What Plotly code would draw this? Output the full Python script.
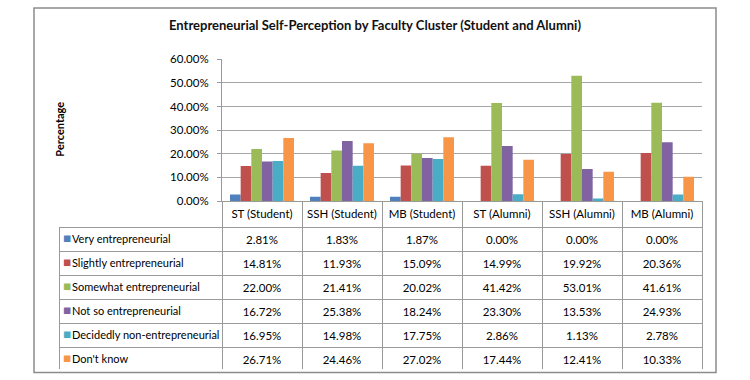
import plotly.graph_objects as go

# ---- data ----
categories = ["ST (Student)", "SSH (Student)", "MB (Student)",
              "ST (Alumni)", "SSH (Alumni)", "MB (Alumni)"]
series_names = ["Very entrepreneurial", "Slightly entrepreneurial",
                "Somewhat entrepreneurial", "Not so entrepreneurial",
                "Decidedly non-entrepreneurial", "Don't know"]
very = [2.81, 1.83, 1.87, 0.00, 0.00, 0.00]
slightly = [14.81, 11.93, 15.09, 14.99, 19.92, 20.36]
somewhat = [22.00, 21.41, 20.02, 41.42, 53.01, 41.61]
not_so = [16.72, 25.38, 18.24, 23.30, 13.53, 24.93]
decidedly = [16.95, 14.98, 17.75, 2.86, 1.13, 2.78]
dont_know = [26.71, 24.46, 27.02, 17.44, 12.41, 10.33]
y_ticks = [0, 10, 20, 30, 40, 50, 60]

series_values = [very, slightly, somewhat, not_so, decidedly, dont_know]
colors = ["#4F81BD", "#C0504D", "#9BBB59", "#8064A2", "#4BACC6", "#F79646"]

# ---- layout helpers (pixel positions in a 750x380 canvas) ----
W, H = 750, 380
def px(x):
    return x / W
def py(y):
    return 1 - y / H

FONT = "Lato, Roboto, 'Noto Sans', sans-serif"
GRID = "#a6a6a6"
LINE = "#9a9a9a"
CLEAR = "rgba(0,0,0,0)"
NB = "\u00a0"

def nowrap(s):
    return s.replace(" ", NB)

fig = go.Figure()
for name, vals, col in zip(series_names, series_values, colors):
    fig.add_trace(go.Bar(x=categories, y=vals, name=name, marker_color=col,
                         marker_line_width=0, showlegend=False))

ncat = len(categories)
nser = len(series_names)
value_columns = [[f"{s[i]:.2f}%" for s in series_values] for i in range(ncat)]
TABLE_Y = [py(375), py(201)]

# data table grid with the values
fig.add_trace(go.Table(
    domain=dict(x=[px(59), px(702)], y=TABLE_Y),
    columnwidth=[163] + [80] * ncat,
    header=dict(
        values=[""] + [nowrap(c) for c in categories],
        fill_color=[CLEAR] + ["white"] * ncat,
        line=dict(color=[CLEAR] + [LINE] * ncat, width=1),
        align="center",
        height=26,
        font=dict(family=FONT, size=11.5, color="black"),
    ),
    cells=dict(
        values=[[""] * nser] + value_columns,
        fill_color="white",
        line=dict(color=LINE, width=1),
        align=["left"] + ["center"] * ncat,
        height=24,
        font=dict(family=FONT, size=11.5, color="black"),
    ),
))

# legend keys (coloured squares) in the label column
fig.add_trace(go.Table(
    domain=dict(x=[px(55), px(70)], y=TABLE_Y),
    columnwidth=[15],
    header=dict(values=[""], fill_color=CLEAR, line=dict(color=CLEAR),
                height=26),
    cells=dict(values=[["■"] * nser], fill_color=CLEAR,
               line=dict(color=CLEAR), align="left", height=24,
               font=dict(family="DejaVu Sans", size=8.5, color=[colors])),
))

# series names in the label column
fig.add_trace(go.Table(
    domain=dict(x=[px(64), px(222)], y=TABLE_Y),
    columnwidth=[158],
    header=dict(values=[""], fill_color=CLEAR, line=dict(color=CLEAR),
                height=26),
    cells=dict(values=[[nowrap(n) for n in series_names]], fill_color=CLEAR,
               line=dict(color=CLEAR), align="left", height=24,
               font=dict(family=FONT, size=11, color="black")),
))

fig.update_layout(
    width=W, height=H,
    margin=dict(l=0, r=0, t=0, b=0),
    paper_bgcolor="white", plot_bgcolor="white",
    barmode="group", bargap=0.2, bargroupgap=0,
    font=dict(family=FONT, size=11.5, color="black"),
    title=dict(text="<b>Entrepreneurial Self-Perception by Faculty Cluster (Student and Alumni)</b>",
               x=0.5, xanchor="center", y=py(25), yanchor="middle",
               font=dict(family=FONT, size=13, color="#111111")),
    xaxis=dict(domain=[px(222), px(702)], showticklabels=False, ticks="",
               showline=True, linecolor=LINE, showgrid=False, fixedrange=True),
    yaxis=dict(domain=[py(201), py(54)], range=[0, 60], tickvals=y_ticks,
               ticktext=[f"{v:.2f}%" for v in y_ticks],
               showgrid=True, gridcolor=GRID, gridwidth=1,
               showline=True, linecolor=LINE, ticks="outside", ticklen=4,
               tickcolor=LINE, ticklabelstandoff=6, zeroline=False,
               fixedrange=True,
               tickfont=dict(family=FONT, size=11.5, color="black")),
    annotations=[dict(text="<b>Percentage</b>", x=px(60), y=py(127),
                      xref="paper", yref="paper", textangle=-90,
                      showarrow=False, xanchor="center", yanchor="middle",
                      font=dict(family=FONT, size=11, color="black"))],
    shapes=[dict(type="rect", xref="paper", yref="paper",
                 x0=px(34), x1=px(716), y0=py(378.5), y1=py(1),
                 line=dict(color="#8c8c8c", width=1.5), layer="above")],
)

fig.write_html("out.html", config={"displayModeBar": False},
               post_script="document.body.style.margin='0px';")
